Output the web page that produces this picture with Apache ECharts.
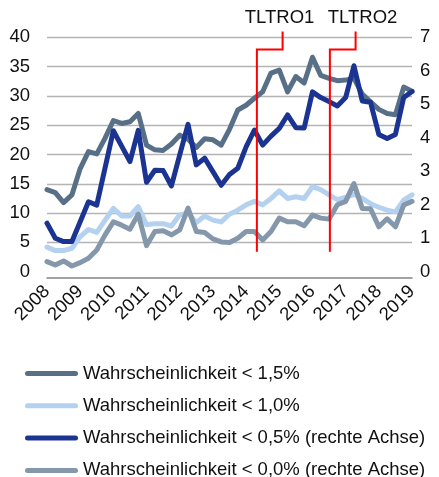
<!DOCTYPE html>
<html>
<head>
<meta charset="utf-8">
<script src="https://cdn.jsdelivr.net/npm/echarts@6/dist/echarts.min.js"></script>
<style>
    html, body { margin: 0; padding: 0; background: #fff; }
    #chart { width: 439px; height: 477px; }
</style>
</head>
<body>
<div id="chart"></div>
<script>
    // quarterly, 2008 Q1 .. 2019 Q1
    var quarters = [
        '2008 Q1', '2008 Q2', '2008 Q3', '2008 Q4', '2009 Q1', '2009 Q2', '2009 Q3', '2009 Q4',
        '2010 Q1', '2010 Q2', '2010 Q3', '2010 Q4', '2011 Q1', '2011 Q2', '2011 Q3', '2011 Q4',
        '2012 Q1', '2012 Q2', '2012 Q3', '2012 Q4', '2013 Q1', '2013 Q2', '2013 Q3', '2013 Q4',
        '2014 Q1', '2014 Q2', '2014 Q3', '2014 Q4', '2015 Q1', '2015 Q2', '2015 Q3', '2015 Q4',
        '2016 Q1', '2016 Q2', '2016 Q3', '2016 Q4', '2017 Q1', '2017 Q2', '2017 Q3', '2017 Q4',
        '2018 Q1', '2018 Q2', '2018 Q3', '2018 Q4', '2019 Q1'
    ];

    var names = [
        'Wahrscheinlichkeit < 1,5%',
        'Wahrscheinlichkeit < 1,0%',
        'Wahrscheinlichkeit < 0,5% (rechte Achse)',
        'Wahrscheinlichkeit < 0,0% (rechte Achse)'
    ];

    // left axis
    var p15 = [14.0, 13.5, 11.8, 13.1, 17.6, 20.5, 20.1, 22.8, 25.8, 25.3, 25.6, 27.0,
        21.6, 20.8, 20.7, 21.8, 23.3, 22.6, 21.2, 22.7, 22.5, 21.6, 24.3, 27.6,
        28.4, 29.6, 30.7, 33.9, 34.4, 30.7, 33.3, 32.2, 36.6, 33.5, 33.0, 32.6,
        32.7, 33.0, 30.3, 29.0, 27.7, 27.0, 26.8, 31.5, 30.8];
    var p10 = [4.2, 3.6, 3.6, 4.0, 6.0, 7.2, 6.7, 8.8, 10.8, 9.5, 9.5, 11.1,
        8.0, 8.2, 8.2, 7.8, 9.7, 10.0, 8.4, 9.5, 8.8, 8.5, 9.8, 10.5,
        11.4, 12.0, 11.4, 12.5, 13.8, 12.5, 12.8, 12.5, 14.5, 14.0, 13.1, 12.3,
        12.7, 13.2, 12.5, 11.6, 11.0, 10.5, 10.2, 12.2, 13.1];
    // right axis
    var p05 = [1.45, 1.0, 0.9, 0.9, 1.49, 2.09, 1.99, 3.1, 4.21, 3.75, 3.29, 4.22,
        2.67, 3.03, 3.02, 2.56, 3.49, 4.4, 3.19, 3.39, 2.99, 2.58, 2.9, 3.09,
        3.73, 4.23, 3.78, 4.05, 4.28, 4.68, 4.3, 4.29, 5.37, 5.2, 5.08, 4.95,
        5.2, 6.15, 5.1, 5.06, 4.1, 3.98, 4.1, 5.2, 5.38];
    var p00 = [0.30, 0.20, 0.32, 0.17, 0.27, 0.40, 0.65, 1.10, 1.49, 1.39, 1.27, 1.72,
        0.78, 1.2, 1.22, 1.1, 1.25, 1.9, 1.2, 1.17, 0.98, 0.89, 0.87, 1.0,
        1.2, 1.2, 0.95, 1.2, 1.6, 1.49, 1.49, 1.37, 1.69, 1.6, 1.57, 2.0,
        2.1, 2.63, 1.89, 1.88, 1.34, 1.58, 1.34, 1.99, 2.1];

    // TLTRO markers: position on the quarter axis, elbow position, left-axis heights
    var tltroLabels = ['TLTRO1', 'TLTRO2'];
    var tltroAt = [25.3, 34.1];
    var tltroElbow = [28.4, 37.2];
    var tltroLow = 3.4, tltroMid = 37.9, tltroTop = 41.0;

    var colors = ['#587087', '#b4d1f0', '#1c3491', '#8497ab'];
    var font = "'Liberation Sans', Arial, sans-serif";
    var fs = 18.5;
    // legend stroke with round ends
    var legendIcon = 'path://M2.5,0 L50.5,0 A2.5,2.5 0 0 1 50.5,5 L2.5,5 A2.5,2.5 0 0 1 2.5,0 Z';

    var chart = echarts.init(document.getElementById('chart'));

    function line(i, data, axis) {
        return {
            name: names[i],
            type: 'line',
            yAxisIndex: axis,
            data: data,
            symbol: 'none',
            lineStyle: { color: colors[i], width: 5, join: 'round', cap: 'round' },
            itemStyle: { color: colors[i] }
        };
    }

    chart.setOption({
        animation: false,
        textStyle: { fontFamily: font },
        grid: { left: 47, right: 27, top: 37.3, bottom: 205.3 },
        legend: {
            // horizontal with a narrow box so every entry takes its own row
            orient: 'horizontal',
            left: 25,
            top: 364,
            width: 60,
            padding: 0,
            icon: legendIcon,
            itemWidth: 53,
            itemHeight: 5,
            itemGap: 13.3,
            textStyle: { fontSize: fs, color: '#111', fontFamily: font },
            data: names
        },
        xAxis: {
            type: 'category',
            data: quarters,
            boundaryGap: false,
            offset: 6,
            axisLine: { onZero: false, lineStyle: { color: '#858585', width: 1.5 } },
            axisTick: { show: false },
            axisLabel: {
                interval: 3,
                rotate: 45,
                margin: 11,
                fontSize: fs,
                color: '#111',
                formatter: function (v) { return v.slice(0, 4); }
            },
            splitLine: { show: false }
        },
        yAxis: [{
            type: 'value',
            min: 0, max: 40, interval: 5,
            axisLine: { show: false },
            axisTick: { show: false },
            axisLabel: { fontSize: fs, color: '#111', margin: 17 },
            splitLine: { showMinLine: false, lineStyle: { color: '#b4b4b4', width: 1.3 } }
        }, {
            type: 'value',
            min: 0, max: 7, interval: 1,
            axisLine: { show: false },
            axisTick: { show: false },
            axisLabel: { fontSize: fs, color: '#111', margin: 8 },
            splitLine: { show: false }
        }],
        series: [
            line(0, p15, 0),
            line(1, p10, 0),
            line(2, p05, 1),
            line(3, p00, 1)
        ]
    });

    // TLTRO annotations, placed through the axes
    function xPix(f) {
        var a = Math.floor(f), b = Math.ceil(f);
        var pa = chart.convertToPixel({ xAxisIndex: 0 }, a);
        var pb = chart.convertToPixel({ xAxisIndex: 0 }, b);
        return pa + (pb - pa) * (f - a);
    }
    function yPix(v) {
        return chart.convertToPixel({ yAxisIndex: 0 }, v);
    }
    var textDx = [-3, 7];
    var graphics = [];
    tltroLabels.forEach(function (lab, k) {
        var x0 = xPix(tltroAt[k]), x1 = xPix(tltroElbow[k]);
        graphics.push({
            type: 'polyline',
            shape: { points: [[x0, yPix(tltroLow)], [x0, yPix(tltroMid)], [x1, yPix(tltroMid)], [x1, yPix(tltroTop)]] },
            style: { stroke: '#ff0000', lineWidth: 2, fill: null },
            z: 10
        });
        graphics.push({
            type: 'text',
            x: x1 + textDx[k],
            y: 18,
            style: { text: lab, font: fs + 'px ' + font, fill: '#111', textAlign: 'center', textVerticalAlign: 'middle' },
            z: 10
        });
    });
    chart.setOption({ graphic: graphics });
</script>
</body>
</html>
